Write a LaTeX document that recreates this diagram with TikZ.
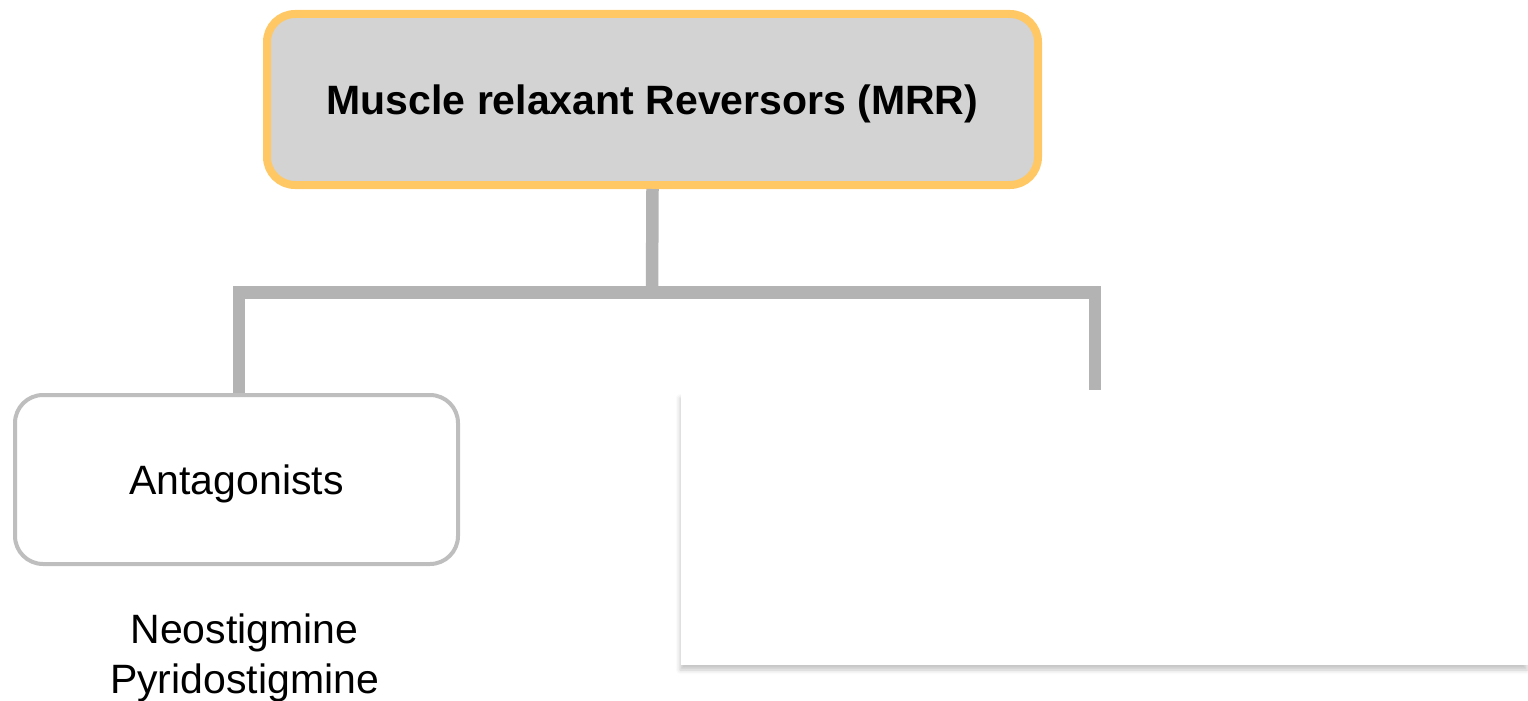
\documentclass[tikz,border=0pt]{standalone}
\usepackage{fontspec}
\setmainfont{Liberation Sans}
\usetikzlibrary{shadows.blur}

\definecolor{headfill}{RGB}{211,211,211}
\definecolor{headline}{RGB}{255,200,100}
\definecolor{connline}{RGB}{179,179,179}
\definecolor{boxline}{RGB}{190,190,190}

\tikzset{
  basebox/.style={rounded corners=28pt, inner sep=0pt, text height=30pt, text depth=0pt,
                  font=\fontsize{41}{50}\selectfont},
  headbox/.style={basebox, fill=headfill, draw=headline, line width=8pt,
                  minimum width=771pt, minimum height=171pt, font=\fontsize{41}{50}\selectfont\bfseries},
  groupbox/.style={basebox, fill=white, draw=boxline, line width=4pt,
                   minimum width=443pt, minimum height=169pt},
  sheet/.style={fill=white, inner sep=0pt, minimum width=847pt, minimum height=272pt,
                blur shadow={shadow xshift=-1pt, shadow yshift=-5pt, shadow blur radius=4pt, shadow opacity=22}},
  conn/.style={draw=connline, line width=12.5pt, line join=miter, line cap=butt},
  itemtext/.style={anchor=base, inner sep=0pt, font=\fontsize{41}{50}\selectfont}
}

\begin{document}
\begin{tikzpicture}[x=1pt, y=-1pt]
  \useasboundingbox (0,0) rectangle (1528,701);

  % main heading
  \node[headbox] (mrr) at (652.5,99.5) {Muscle relaxant Reversors (MRR)};

  % first group and its members
  \node[groupbox] (ant) at (236.5,479.5) {Antagonists};
  \node[itemtext] (neo) at (244.5,643) {Neostigmine};
  \node[itemtext] (pyr) at (244.5,693) {Pyridostigmine};

  % second, blank panel
  \node[sheet] (panel) at (1104.5,529) {};

  % tree connectors
  \coordinate (hub) at (652,292.5);
  \coordinate (rdrop) at (1095,390);
  \draw[conn] (mrr.south) -- (hub);
  \draw[conn] ([xshift=2.5pt]ant.north) |- (hub) -| (rdrop);
\end{tikzpicture}
\end{document}
